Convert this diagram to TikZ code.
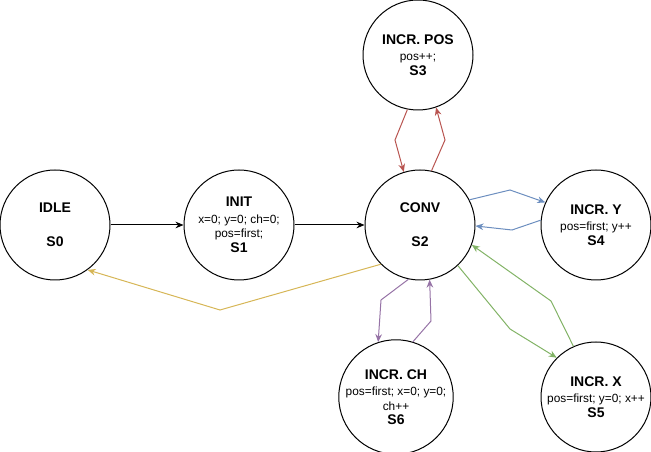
\documentclass[tikz,border=0pt]{standalone}
\usepackage{fontspec}
\setmainfont{Liberation Sans}
\usetikzlibrary{arrows.meta}
\definecolor{cred}{HTML}{B85450}
\definecolor{cblue}{HTML}{6C8EBF}
\definecolor{cgreen}{HTML}{82B366}
\definecolor{cpurple}{HTML}{9673A6}
\definecolor{cyellow}{HTML}{D6B656}
\newcommand{\ttl}[1]{{\fontsize{10.5}{10.5}\selectfont\bfseries #1}}
\begin{document}
\begin{tikzpicture}[x=0.75pt,y=-0.75pt,
  state/.style={circle,draw,line width=0.75pt,inner sep=0pt,minimum size=82.5pt,align=center,font=\fontsize{8.9}{10.6}\selectfont},
  conn/.style={line width=0.75pt,-{Stealth[length=6pt,width=5pt]}}]
\useasboundingbox (0,0) rectangle (651,452);
\node[state] (s0) at (55,225) {\ttl{IDLE}\\[15pt]\ttl{S0}};
\node[state] (s1) at (239,225) {\ttl{INIT}\\[2pt] x=0; y=0; ch=0;\\ pos=first;\\[1pt] \ttl{S1}};
\node[state] (s2) at (420,225) {\ttl{CONV}\\[15pt]\ttl{S2}};
\node[state] (s3) at (418,55) {\ttl{INCR. POS}\\[1.6pt] pos++;\\[0.8pt] \ttl{S3}};
\node[state] (s4) at (596,225) {\ttl{INCR. Y}\\[1.6pt] pos=first; y++\\[0.8pt] \ttl{S4}};
\node[state] (s5) at (596,397) {\ttl{INCR. X}\\[1.6pt] pos=first; y=0; x++\\[0.8pt] \ttl{S5}};
\node[state] (s6) at (396,397) {\ttl{INCR. CH}\\[1.2pt] pos=first; x=0; y=0;\\[0.6pt] ch++\\ \ttl{S6}};

\draw[conn] (s0.east) -- (s1.west);
\draw[conn] (s1.east) -- (s2.west);

\draw[conn,cred] (s3.259) -- (395,140) -- (s2.107);
\draw[conn,cred] (s2.78) -- (445,140) -- (s3.289);

\draw[conn,cblue] (s2.27) -- (510,190) -- (s4.156);
\draw[conn,cblue] (s4.175) -- (512,230) -- (s2.359);

\draw[conn,cgreen] (s2.313) -- (510,329) -- (s5.135);
\draw[conn,cgreen] (s5.114) -- (551,301) -- (s2.339);

\draw[conn,cpurple] (s2.258) -- (381,300) -- (s6.108);
\draw[conn,cpurple] (s6.73) -- (431,321) -- (s2.280);

\draw[conn,cyellow] (s2.225) -- (220,310) -- (s0.306);
\end{tikzpicture}
\end{document}
